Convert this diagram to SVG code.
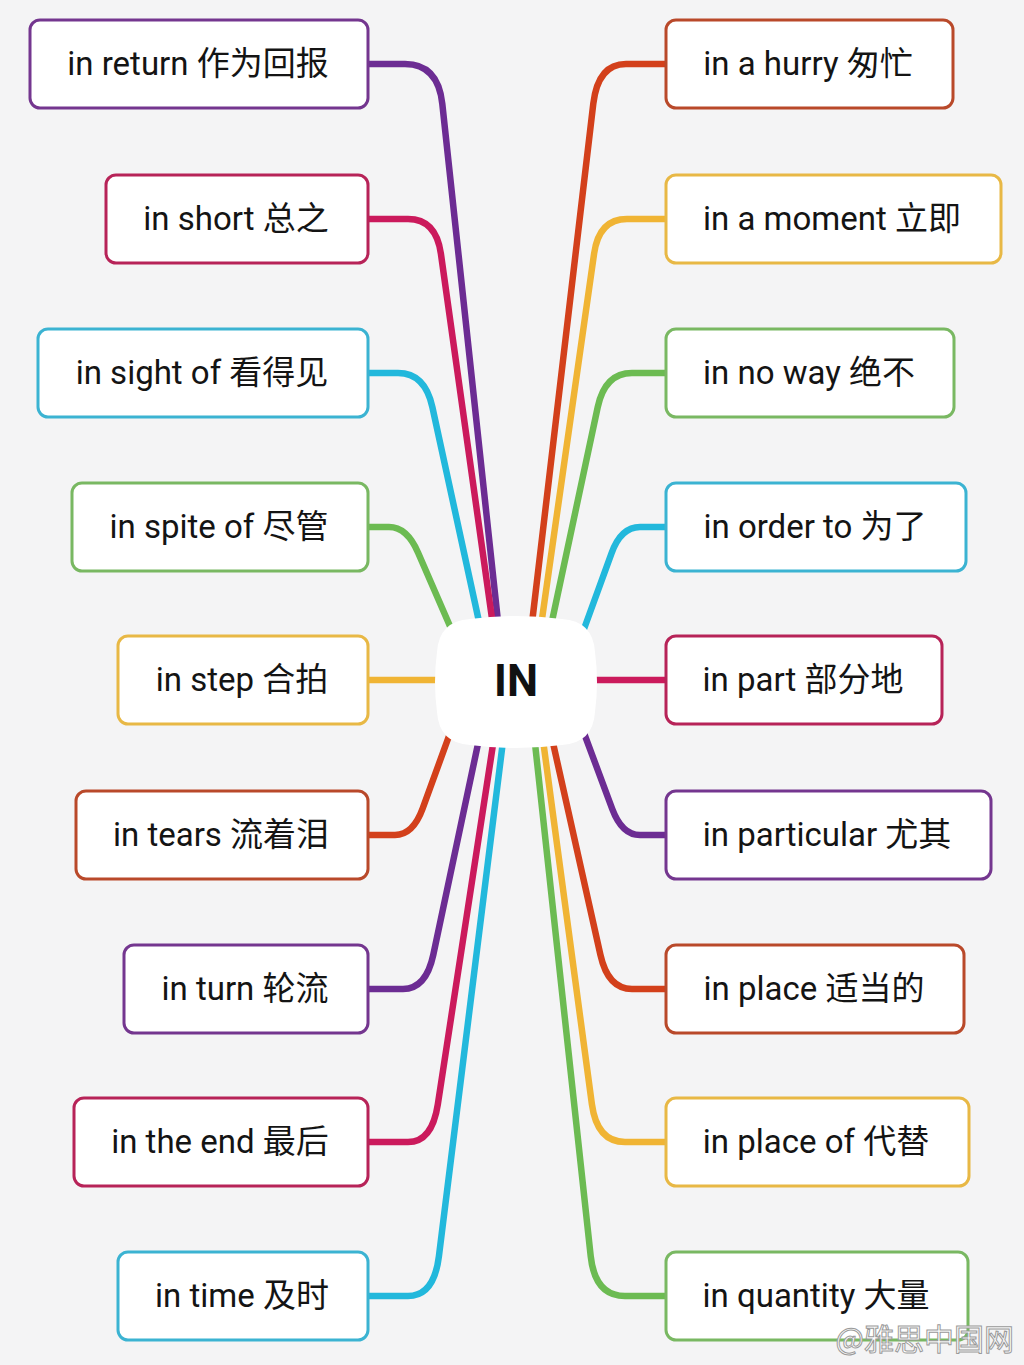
<svg xmlns="http://www.w3.org/2000/svg" width="1024" height="1365" viewBox="0 0 1024 1365">
<style>
.bg{fill:#f4f4f5}
.box{fill:#ffffff;stroke-width:3}
.lbl{font-family:Roboto,"Noto Sans CJK SC",sans-serif;font-size:33px;fill:#141414;text-anchor:middle}
.c{fill:none;stroke-width:6.5;stroke-linecap:butt;stroke-linejoin:round}
.purple{stroke:#6c2c93}
.crimson{stroke:#cb1a5c}
.cyan{stroke:#22b8dc}
.green{stroke:#6cbb52}
.yellow{stroke:#f0b434}
.orange{stroke:#d3401b}
.bpurple{stroke:#74368f}
.bcrimson{stroke:#b72358}
.bcyan{stroke:#3bb3d2}
.bgreen{stroke:#79b862}
.byellow{stroke:#e8b845}
.borange{stroke:#b9492a}
</style>
<rect class="bg" x="0" y="0" width="1024" height="1365"/>
<g id="connectors">
<path class="c purple" d="M368,64 H405 Q438,64 442.3,103.8 L500,640"/>
<path class="c crimson" d="M368,219 H408 Q436,219 440.9,253.7 L495,640"/>
<path class="c cyan" d="M368,373 H398 Q425,373 432.4,407.2 L483,640"/>
<path class="c green" d="M368,527 H389 Q407,527 418.1,552.7 L456,640"/>
<path class="c yellow" d="M368,680 H480"/>
<path class="c orange" d="M368,835 H395 Q413,835 422.6,808.7 L453,725"/>
<path class="c purple" d="M368,989 H403 Q426,989 433.3,954.8 L482,725"/>
<path class="c crimson" d="M368,1142 H408 Q432,1142 437.8,1104.4 L496,725"/>
<path class="c cyan" d="M368,1296 H408 Q434,1296 438.9,1256.3 L505,725"/>
<path class="c orange" d="M666,64 H626 Q598,64 593.3,103.7 L530,640"/>
<path class="c yellow" d="M666,219 H627 Q599,219 594.1,253.6 L539,640"/>
<path class="c green" d="M666,373 H632 Q605,373 597.7,407.2 L548,640"/>
<path class="c cyan" d="M666,527 H640 Q621,527 611.5,553.3 L580,640"/>
<path class="c crimson" d="M666,680 H560"/>
<path class="c purple" d="M666,835 H640 Q622,835 612.2,808.8 L581,725"/>
<path class="c orange" d="M666,989 H632 Q608,989 600.4,954.8 L549,725"/>
<path class="c yellow" d="M666,1142 H625 Q597,1142 591.9,1104.3 L541,725"/>
<path class="c green" d="M666,1296 H625 Q595,1296 590.7,1256.2 L533,725"/>
</g>
<g id="center">
<path d="M470,619 Q516,613 562,619 Q593,621 595,652 Q599,682 595,712 Q593,743 562,745 Q516,751 470,745 Q439,743 437,712 Q433,682 437,652 Q439,621 470,619 Z" fill="#ffffff"/>
<text x="516" y="696" font-family="Roboto,'Liberation Sans',sans-serif" font-size="44" font-weight="bold" fill="#111" text-anchor="middle">IN</text>
</g>
<g id="n-return"><rect class="box bpurple" x="30" y="20" width="338" height="88" rx="10"/><text class="lbl" x="198" y="75">in return 作为回报</text></g>
<g id="n-short"><rect class="box bcrimson" x="106" y="175" width="262" height="88" rx="10"/><text class="lbl" x="236" y="230">in short 总之</text></g>
<g id="n-sight"><rect class="box bcyan" x="38" y="329" width="330" height="88" rx="10"/><text class="lbl" x="202" y="384">in sight of 看得见</text></g>
<g id="n-spite"><rect class="box bgreen" x="72" y="483" width="296" height="88" rx="10"/><text class="lbl" x="219" y="538">in spite of 尽管</text></g>
<g id="n-step"><rect class="box byellow" x="118" y="636" width="250" height="88" rx="10"/><text class="lbl" x="242" y="691">in step 合拍</text></g>
<g id="n-tears"><rect class="box borange" x="76" y="791" width="292" height="88" rx="10"/><text class="lbl" x="221" y="846">in tears 流着泪</text></g>
<g id="n-turn"><rect class="box bpurple" x="124" y="945" width="244" height="88" rx="10"/><text class="lbl" x="245" y="1000">in turn 轮流</text></g>
<g id="n-end"><rect class="box bcrimson" x="74" y="1098" width="294" height="88" rx="10"/><text class="lbl" x="220" y="1153">in the end 最后</text></g>
<g id="n-time"><rect class="box bcyan" x="118" y="1252" width="250" height="88" rx="10"/><text class="lbl" x="242" y="1307">in time 及时</text></g>
<g id="n-hurry"><rect class="box borange" x="666" y="20" width="287" height="88" rx="10"/><text class="lbl" x="808" y="75">in a hurry 匆忙</text></g>
<g id="n-moment"><rect class="box byellow" x="666" y="175" width="335" height="88" rx="10"/><text class="lbl" x="832" y="230">in a moment 立即</text></g>
<g id="n-noway"><rect class="box bgreen" x="666" y="329" width="288" height="88" rx="10"/><text class="lbl" x="809" y="384">in no way 绝不</text></g>
<g id="n-order"><rect class="box bcyan" x="666" y="483" width="300" height="88" rx="10"/><text class="lbl" x="815" y="538">in order to 为了</text></g>
<g id="n-part"><rect class="box bcrimson" x="666" y="636" width="276" height="88" rx="10"/><text class="lbl" x="803" y="691">in part 部分地</text></g>
<g id="n-particular"><rect class="box bpurple" x="666" y="791" width="325" height="88" rx="10"/><text class="lbl" x="827" y="846">in particular 尤其</text></g>
<g id="n-place"><rect class="box borange" x="666" y="945" width="298" height="88" rx="10"/><text class="lbl" x="814" y="1000">in place 适当的</text></g>
<g id="n-placeof"><rect class="box byellow" x="666" y="1098" width="303" height="88" rx="10"/><text class="lbl" x="816" y="1153">in place of 代替</text></g>
<g id="n-quantity"><rect class="box bgreen" x="666" y="1252" width="302" height="88" rx="10"/><text class="lbl" x="816" y="1307">in quantity 大量</text></g>
<text x="1014" y="1350" font-family="'Noto Sans CJK SC',sans-serif" font-size="30" fill="#ffffff" stroke="#9a9a9a" stroke-width="1" text-anchor="end">@雅思中国网</text>
</svg>
